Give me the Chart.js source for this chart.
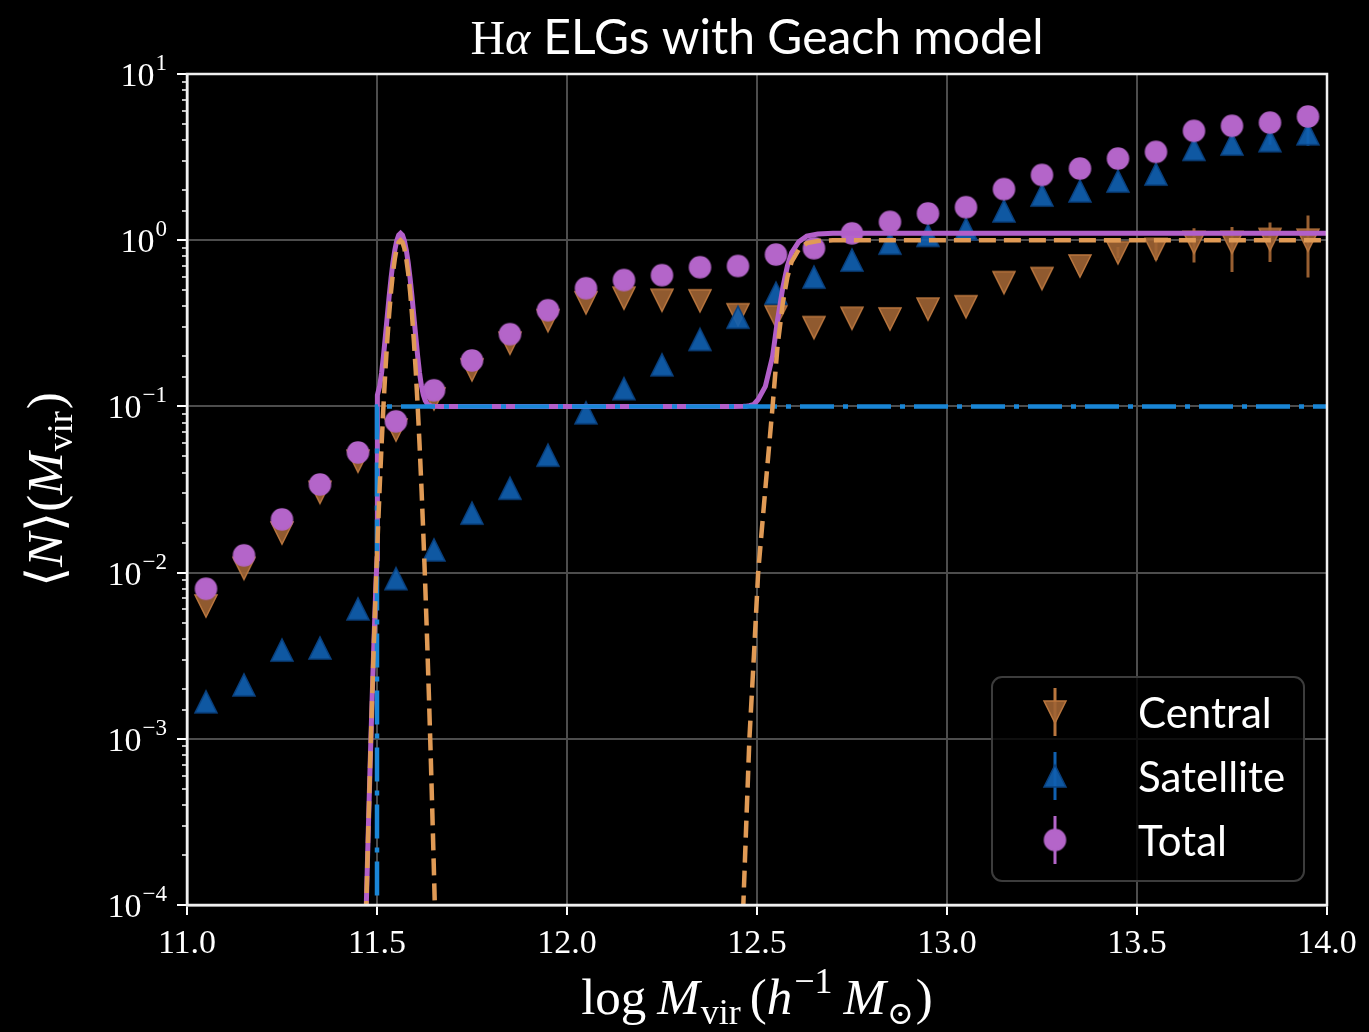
<!DOCTYPE html>
<html>
<head>
<meta charset="utf-8">
<script src="https://cdn.jsdelivr.net/npm/chart.js@4.4.1/dist/chart.umd.min.js"></script>
<style>
  html, body { margin: 0; padding: 0; background: #000; }
  #wrap { width: 1369px; height: 1032px; }
</style>
</head>
<body>
<div id="wrap"><canvas id="hod" width="1369" height="1032"></canvas></div>
<script>
// mass bins, log M_vir
const logM = [11.05, 11.15, 11.25, 11.35, 11.45, 11.55, 11.65, 11.75, 11.85, 11.95,
              12.05, 12.15, 12.25, 12.35, 12.45, 12.55, 12.65, 12.75, 12.85, 12.95,
              13.05, 13.15, 13.25, 13.35, 13.45, 13.55, 13.65, 13.75, 13.85, 13.95];

// measured <N> per bin
const centralVals = [0.0063, 0.0106, 0.0173, 0.0304, 0.0468, 0.0721, 0.111, 0.166, 0.240, 0.328,
                     0.420, 0.448, 0.435, 0.432, 0.356, 0.347, 0.298, 0.339, 0.336, 0.385,
                     0.398, 0.556, 0.588, 0.700, 0.840, 0.880, 0.970, 0.970, 1.010, 1.000];
const satelliteVals = [0.00167, 0.00211, 0.00342, 0.00352, 0.00605, 0.0092, 0.0137, 0.0228, 0.0322, 0.0509,
                       0.0915, 0.128, 0.178, 0.253, 0.344, 0.480, 0.600, 0.760, 0.960, 1.070,
                       1.170, 1.500, 1.870, 1.980, 2.270, 2.500, 3.520, 3.790, 3.970, 4.370];
const totalVals = [0.0080, 0.0127, 0.0209, 0.0339, 0.0528, 0.0813, 0.125, 0.189, 0.272, 0.379,
                   0.514, 0.576, 0.616, 0.688, 0.700, 0.820, 0.895, 1.100, 1.290, 1.450,
                   1.580, 2.030, 2.470, 2.700, 3.100, 3.400, 4.550, 4.880, 5.100, 5.550];

// error bars (only the ones big enough to see), null = none
const N24 = [null, null, null, null, null, null, null, null, null, null, null, null,
             null, null, null, null, null, null, null, null, null, null, null, null];
const centralLo = N24.concat([0.78, 0.76, 0.734, 0.644, 0.74, 0.596]);
const centralHi = N24.concat([0.91, 1.02, 1.18, 1.20, 1.28, 1.41]);
const satelliteLo = N24.concat([null, null, null, null, 3.75, 3.70]);
const satelliteHi = N24.concat([null, null, null, null, 4.20, 5.00]);
const totalLo = N24.concat([null, null, null, null, 4.80, 5.00]);
const totalHi = N24.concat([null, null, null, null, 5.40, 6.30]);

// Geach model curves
const centralModelM = [11.457, 11.462, 11.467, 11.472, 11.477, 11.482, 11.487, 11.492, 11.497, 11.502,
                       11.507, 11.512, 11.517, 11.522, 11.527, 11.532, 11.537, 11.542, 11.547, 11.552,
                       11.557, 11.562, 11.567, 11.572, 11.577, 11.582, 11.587, 11.592, 11.597, 11.602,
                       11.607, 11.612, 11.617, 11.622, 11.627, 11.632, 11.637, 11.642, 11.647, 11.652,
                       11.657, 11.662, 11.667,
                       12.440, 12.464, 12.472, 12.480, 12.492, 12.503, 12.522, 12.541, 12.554, 12.568,
                       12.580, 12.591, 12.610, 12.631, 12.660, 12.700, 14.000];
const centralModelN = [3.7e-6, 1.19e-5, 3.6e-5, 1.03e-4, 2.77e-4, 7.06e-4, 1.70e-3, 3.86e-3, 8.32e-3, 0.0169,
                       0.0324, 0.0587, 0.1007, 0.163, 0.249, 0.360, 0.492, 0.636, 0.775, 0.893,
                       0.972, 1.0, 0.972, 0.893, 0.775, 0.636, 0.492, 0.360, 0.249, 0.163,
                       0.1007, 0.0587, 0.0324, 0.0169, 8.32e-3, 3.86e-3, 1.70e-3, 7.06e-4, 2.77e-4, 1.03e-4,
                       3.6e-5, 1.19e-5, 3.7e-6,
                       1.5e-5, 1e-4, 3.2e-4, 1e-3, 3.2e-3, 0.01, 0.032, 0.1, 0.23, 0.42,
                       0.60, 0.74, 0.88, 0.96, 0.99, 1.0, 1.0];
const satModelM = [11.5, 11.5, 14.0];
const satModelN = [1e-6, 0.1, 0.1];
const totalModelM = [11.457, 11.462, 11.467, 11.472, 11.477, 11.482, 11.487, 11.492, 11.497, 11.500,
                     11.500, 11.502, 11.507, 11.512, 11.517, 11.522, 11.527, 11.532, 11.537, 11.542,
                     11.547, 11.552, 11.557, 11.562, 11.567, 11.572, 11.577, 11.582, 11.587, 11.592,
                     11.597, 11.602, 11.607, 11.612, 11.617, 11.622, 11.627, 11.632, 11.637, 11.642,
                     11.647, 11.652, 11.667,
                     12.440, 12.464, 12.472, 12.480, 12.492, 12.503, 12.522, 12.541, 12.554, 12.568,
                     12.580, 12.591, 12.610, 12.631, 12.660, 12.700, 14.000];
const totalModelN = [3.7e-6, 1.19e-5, 3.6e-5, 1.03e-4, 2.77e-4, 7.06e-4, 1.70e-3, 3.86e-3, 8.32e-3, 0.0121,
                     0.1121, 0.1169, 0.1324, 0.1587, 0.2007, 0.263, 0.349, 0.460, 0.592, 0.736,
                     0.875, 0.993, 1.072, 1.100, 1.072, 0.993, 0.875, 0.736, 0.592, 0.460,
                     0.349, 0.263, 0.2007, 0.1587, 0.1324, 0.1169, 0.1083, 0.1039, 0.1017, 0.1007,
                     0.1003, 0.1001, 0.1000,
                     0.1000, 0.1001, 0.1003, 0.101, 0.103, 0.110, 0.132, 0.200, 0.330, 0.520,
                     0.700, 0.840, 0.980, 1.060, 1.090, 1.100, 1.100];

const pts = (xs, ys) => xs.map((x, i) => ({ x: x, y: ys[i] }));

// colours
const cOrange = '#e09a55';
const cBlue = '#1a86d6';
const cPurple = '#b25fc9';

// matplotlib-like marker sprites
function makeMarker(shape, size, fill, stroke) {
    const pad = 3;
    const c = document.createElement('canvas');
    c.width = c.height = size + 2 * pad;
    const g = c.getContext('2d');
    const m = pad + size / 2, h = size / 2;
    g.beginPath();
    if (shape === 'down') {
        g.moveTo(m - h, m - h); g.lineTo(m + h, m - h); g.lineTo(m, m + h); g.closePath();
    } else if (shape === 'up') {
        g.moveTo(m - h, m + h); g.lineTo(m + h, m + h); g.lineTo(m, m - h); g.closePath();
    } else {
        g.arc(m, m, h, 0, Math.PI * 2);
    }
    g.fillStyle = fill;
    g.fill();
    g.lineWidth = 1.5;
    g.strokeStyle = stroke;
    g.stroke();
    return c;
}

const mkCentral = makeMarker('down', 22, 'rgba(160,100,52,0.9)', 'rgba(185,118,62,1)');
const mkSatellite = makeMarker('up', 22, 'rgba(16,96,176,0.92)', 'rgba(10,66,128,1)');
const mkTotal = makeMarker('circle', 21, '#b465c9', '#b465c9');

function isDecade(v) {
    const l = Math.log10(v);
    return Math.abs(l - Math.round(l)) < 1e-6;
}

// draw a run of text pieces with their own fonts / vertical offsets
function measureSegs(ctx, segs) {
    let w = 0;
    segs.forEach(s => { ctx.font = s.f; w += ctx.measureText(s.t).width + (s.sp || 0); });
    return w;
}
function drawSegs(ctx, segs, x, y) {
    let cx = x - measureSegs(ctx, segs) / 2;
    segs.forEach(s => {
        ctx.font = s.f;
        ctx.fillText(s.t, cx, y + (s.dy || 0));
        cx += ctx.measureText(s.t).width + (s.sp || 0);
    });
}

const SERIF = '"Liberation Serif", "DejaVu Serif", serif';
const SANS = 'Lato, "Noto Sans", sans-serif';

const decorations = {
    id: 'decorations',
    beforeDraw(chart) {
        const ctx = chart.ctx;
        ctx.save();
        ctx.fillStyle = '#000';
        ctx.fillRect(0, 0, chart.width, chart.height);
        ctx.restore();
    },
    beforeDatasetDraw(chart, args) {
        const ds = chart.data.datasets[args.index];
        if (!ds.errLo) return;
        const ctx = chart.ctx, xs = chart.scales.x, ys = chart.scales.y, a = chart.chartArea;
        ctx.save();
        ctx.beginPath();
        ctx.rect(a.left, a.top, a.right - a.left, a.bottom - a.top);
        ctx.clip();
        ctx.strokeStyle = ds.errColor;
        ctx.lineWidth = 3;
        ctx.beginPath();
        ds.data.forEach((p, i) => {
            if (ds.errLo[i] == null) return;
            const px = xs.getPixelForValue(p.x);
            ctx.moveTo(px, ys.getPixelForValue(ds.errLo[i]));
            ctx.lineTo(px, ys.getPixelForValue(ds.errHi[i]));
        });
        ctx.stroke();
        ctx.restore();
    },
    afterDraw(chart) {
        const ctx = chart.ctx, a = chart.chartArea, ys = chart.scales.y;
        const midX = (a.left + a.right) / 2, midY = (a.top + a.bottom) / 2;
        ctx.save();

        // frame
        ctx.strokeStyle = '#f0f0f0';
        ctx.lineWidth = 2.5;
        ctx.strokeRect(a.left, a.top, a.right - a.left, a.bottom - a.top);

        ctx.fillStyle = '#fff';
        ctx.textBaseline = 'alphabetic';
        ctx.textAlign = 'left';

        // y tick labels 10^n
        ys.ticks.forEach(t => {
            if (!isDecade(t.value)) return;
            const e = Math.round(Math.log10(t.value));
            const py = ys.getPixelForValue(t.value);
            const ex = e < 0 ? '\u2212' + (-e) : String(e);
            ctx.font = '23px ' + SERIF;
            const we = ctx.measureText(ex).width;
            ctx.font = '34px ' + SERIF;
            const wb = ctx.measureText('10').width;
            const right = 167;
            ctx.fillText('10', right - we - wb - 1, py + 12);
            ctx.font = '23px ' + SERIF;
            ctx.fillText(ex, right - we, py - 4);
        });

        // title
        drawSegs(ctx, [
            { t: 'H', f: '48px ' + SERIF },
            { t: '\u03b1', f: 'italic 48px ' + SERIF, sp: 13 },
            { t: 'ELGs with Geach model', f: '48px ' + SANS }
        ], midX, 54);

        // x axis title
        const S = 51;
        drawSegs(ctx, [
            { t: 'log', f: S + 'px ' + SERIF, sp: 11 },
            { t: 'M', f: 'italic ' + S + 'px ' + SERIF, sp: 1 },
            { t: 'vir', f: Math.round(S * 0.7) + 'px ' + SERIF, dy: 10, sp: 9 },
            { t: '(', f: S + 'px ' + SERIF },
            { t: 'h', f: 'italic ' + S + 'px ' + SERIF, sp: 2 },
            { t: '\u22121', f: Math.round(S * 0.7) + 'px ' + SERIF, dy: -21, sp: 11 },
            { t: 'M', f: 'italic ' + S + 'px ' + SERIF, sp: 1 },
            { t: '\u2299', f: Math.round(S * 0.62) + 'px "DejaVu Serif", serif', dy: 10, sp: 2 },
            { t: ')', f: S + 'px ' + SERIF }
        ], midX, 1014);

        // y axis title (rotated)
        ctx.save();
        ctx.translate(62, midY);
        ctx.rotate(-Math.PI / 2);
        drawSegs(ctx, [
            { t: '\u27e8', f: S + 'px "DejaVu Serif", serif' },
            { t: 'N', f: 'italic ' + S + 'px ' + SERIF, sp: 1 },
            { t: '\u27e9', f: S + 'px "DejaVu Serif", serif' },
            { t: '(', f: S + 'px ' + SERIF },
            { t: 'M', f: 'italic ' + S + 'px ' + SERIF, sp: 1 },
            { t: 'vir', f: Math.round(S * 0.7) + 'px ' + SERIF, dy: 10, sp: 2 },
            { t: ')', f: S + 'px ' + SERIF }
        ], 0, 0);
        ctx.restore();

        // legend
        const bx = 992, by = 677, bw = 312, bh = 204;
        ctx.beginPath();
        ctx.roundRect(bx, by, bw, bh, 10);
        ctx.fillStyle = 'rgba(0,0,0,0.8)';
        ctx.fill();
        ctx.strokeStyle = '#3c3c3c';
        ctx.lineWidth = 2;
        ctx.stroke();
        const entries = [
            { label: 'Central', img: mkCentral, col: 'rgba(185,118,62,1)' },
            { label: 'Satellite', img: mkSatellite, col: 'rgba(16,96,176,1)' },
            { label: 'Total', img: mkTotal, col: '#b465c9' }
        ];
        entries.forEach((en, i) => {
            const cy = 712 + i * 64, mx = 1055;
            ctx.strokeStyle = en.col;
            ctx.lineWidth = 3;
            ctx.beginPath();
            ctx.moveTo(mx, cy - 24);
            ctx.lineTo(mx, cy + 24);
            ctx.stroke();
            ctx.drawImage(en.img, mx - en.img.width / 2, cy - en.img.height / 2);
            ctx.fillStyle = '#fff';
            ctx.font = '42px ' + SANS;
            ctx.fillText(en.label, 1138, cy + 16);
        });

        ctx.restore();
    }
};

const gridCol = ctx => (ctx.tick && isDecade(ctx.tick.value)) ? '#4d4d4d' : 'rgba(0,0,0,0)';

new Chart(document.getElementById('hod'), {
    type: 'scatter',
    data: {
        datasets: [
            {
                label: 'Central', data: pts(logM, centralVals), order: 5,
                pointStyle: mkCentral, pointRadius: 11, showLine: false,
                errLo: centralLo, errHi: centralHi, errColor: 'rgba(160,100,52,0.95)'
            },
            {
                label: 'Satellite', data: pts(logM, satelliteVals), order: 4,
                pointStyle: mkSatellite, pointRadius: 11, showLine: false,
                errLo: satelliteLo, errHi: satelliteHi, errColor: 'rgba(16,96,176,0.95)'
            },
            {
                label: 'Total', data: pts(logM, totalVals), order: 3,
                pointStyle: mkTotal, pointRadius: 11, showLine: false,
                errLo: totalLo, errHi: totalHi, errColor: '#b465c9'
            },
            {
                label: 'Total model', data: pts(totalModelM, totalModelN), order: 2,
                showLine: true, pointRadius: 0, borderColor: cPurple, borderWidth: 5,
                tension: 0
            },
            {
                label: 'Satellite model', data: pts(satModelM, satModelN), order: 1,
                showLine: true, pointRadius: 0, borderColor: cBlue, borderWidth: 4.5,
                borderDash: [34, 9, 5, 9]
            },
            {
                label: 'Central model', data: pts(centralModelM, centralModelN), order: 0,
                showLine: true, pointRadius: 0, borderColor: cOrange, borderWidth: 4.5,
                borderDash: [17, 8]
            }
        ]
    },
    options: {
        responsive: false,
        animation: false,
        devicePixelRatio: 1,
        layout: { padding: { left: 0, right: 42, top: 74, bottom: 0 } },
        plugins: {
            legend: { display: false },
            title: { display: false },
            tooltip: { enabled: false }
        },
        scales: {
            x: {
                type: 'linear', min: 11, max: 14,
                ticks: {
                    stepSize: 0.5, autoSkip: false, maxRotation: 0,
                    callback: v => Number(v).toFixed(1),
                    color: '#fff', font: { family: SERIF, size: 34 }, padding: 9
                },
                grid: { color: '#4d4d4d', lineWidth: 2, tickColor: '#fff', tickLength: 10, tickWidth: 2 },
                border: { color: '#f0f0f0', width: 2.5 },
                afterFit: s => { s.height = 127; }
            },
            y: {
                type: 'logarithmic', min: 1e-4, max: 10,
                ticks: { autoSkip: false, callback: () => '' },
                grid: {
                    color: gridCol, lineWidth: 2, tickColor: '#fff', tickLength: 10,
                    tickWidth: ctx => (ctx.tick && isDecade(ctx.tick.value)) ? 2 : 1.5,
                    tickBorderDash: ctx => (ctx.tick && isDecade(ctx.tick.value)) ? [] : [0, 5, 6, 20]
                },
                border: { color: '#f0f0f0', width: 2.5 },
                afterFit: s => { s.width = 187; }
            }
        }
    },
    plugins: [decorations]
});
</script>
</body>
</html>
